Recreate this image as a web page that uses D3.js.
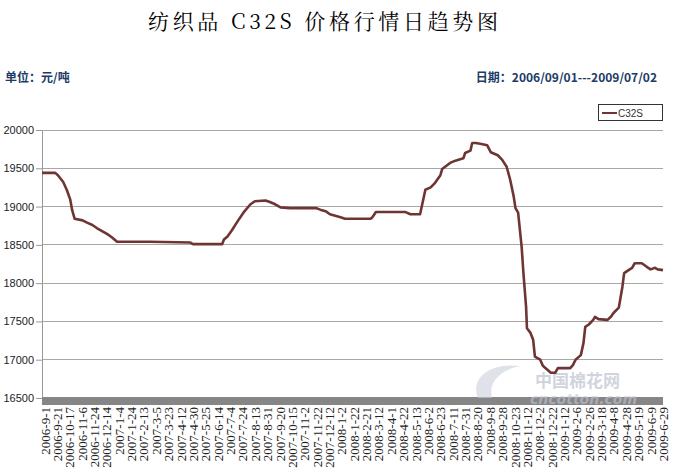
<!DOCTYPE html>
<html><head><meta charset="utf-8">
<script src="https://cdn.jsdelivr.net/npm/d3@7"></script>
<style>
html,body{margin:0;padding:0;background:#fff;}
svg{display:block;}
</style></head>
<body>
<svg id="c" width="680" height="473"></svg>
<script>
// ---- data ----
const xLabels = ["2006-9-1","2006-9-21","2006-10-17","2006-11-6","2006-11-24","2006-12-14",
"2007-1-4","2007-1-24","2007-2-13","2007-3-5","2007-3-23","2007-4-12","2007-4-30","2007-5-25","2007-6-14","2007-7-4","2007-7-24","2007-8-13","2007-8-31","2007-9-20","2007-10-15","2007-11-2","2007-11-22","2007-12-12",
"2008-1-2","2008-1-22","2008-2-21","2008-3-12","2008-4-1","2008-4-22","2008-5-13","2008-6-2","2008-6-23","2008-7-11","2008-7-31","2008-8-20","2008-9-8","2008-9-28","2008-10-23","2008-11-12","2008-12-2","2008-12-22",
"2009-1-12","2009-2-6","2009-2-26","2009-3-18","2009-4-8","2009-4-28","2009-5-19","2009-6-9","2009-6-29"];
const labelStep = 14;      // trading days between labels
const totalDays = 703;     // 2006/09/01 .. 2009/07/02
const yTicks = [16500,17000,17500,18000,18500,19000,19500,20000];
// trading-day index of each reading, and price (元/吨)
const dayIndex = [0,15,18,24,28,32,34,37,46,51,57,62,68,74,79,85,122,168,171,204,206,210,215,221,228,236,241,253,258,264,270,281,306,310,315,321,326,332,338,343,372,374,378,411,417,428,431,434,440,445,451,453,462,468,477,479,485,487,491,496,504,508,516,521,526,530,534,536,539,543,545,548,549,553,556,558,564,567,576,581,584,598,601,604,610,613,615,619,624,626,630,640,644,647,653,657,659,664,668,671,679,685,689,694,697,703];
const price = [19440,19440,19410,19320,19220,19090,18960,18840,18820,18790,18760,18720,18680,18640,18600,18540,18540,18530,18510,18510,18570,18610,18690,18800,18920,19030,19070,19080,19060,19030,18990,18980,18980,18980,18960,18940,18900,18880,18860,18840,18840,18860,18930,18930,18900,18900,19060,19220,19250,19310,19410,19490,19570,19600,19630,19700,19730,19830,19830,19820,19800,19710,19670,19610,19520,19350,19130,18980,18920,18470,18130,17690,17410,17350,17260,17040,17000,16920,16830,16830,16890,16890,16930,17000,17060,17220,17430,17460,17520,17560,17530,17520,17560,17610,17680,17950,18130,18170,18200,18260,18260,18210,18180,18200,18180,18170];
const seriesName = "C32S";

// ---- chart ----
const svg = d3.select("#c");
const L = 42, R = 663, T = 130, B = 398;
const x = d3.scaleLinear().domain([0, totalDays]).range([L, R]);
const y = d3.scaleLinear().domain([16500, 20000]).range([B, T]);
const lineColor = "#6f3434";

// title
svg.append("text").attr("x", 148).attr("y", 29)
  .attr("textLength", 350).attr("lengthAdjust", "spacing")
  .style("font-family", "'Noto Serif CJK SC', 'Noto Sans CJK SC', serif").style("font-size", "21px").style("fill", "#000")
  .text("纺织品 C32S 价格行情日趋势图");

svg.append("text").attr("x", 5).attr("y", 82)
  .style("font-family", "'Noto Sans CJK SC', sans-serif").style("font-size", "12px").style("font-weight", "bold").style("fill", "#1b3b66")
  .text("单位：元/吨");
svg.append("text").attr("x", 657).attr("y", 82).attr("text-anchor", "end")
  .style("font-family", "'Noto Sans CJK SC', sans-serif").style("font-size", "12px").style("font-weight", "bold").style("fill", "#1b3b66")
  .text("日期：2006/09/01---2009/07/02");

// gridlines
svg.append("g").selectAll("line").data(yTicks).join("line")
  .attr("x1", L).attr("x2", R).attr("y1", d => y(d)).attr("y2", d => y(d))
  .attr("stroke", "#a8a8a8").attr("stroke-width", 1).attr("shape-rendering", "crispEdges");

// y axis
const yAxis = svg.append("g").attr("transform", `translate(${L},0)`)
  .call(d3.axisLeft(y).tickValues(yTicks).tickSize(6).tickPadding(2).tickFormat(d3.format("d")));
yAxis.select(".domain").attr("stroke", "#999");
yAxis.selectAll(".tick line").attr("stroke", "#999");
yAxis.selectAll("text").style("font-family", "'Liberation Sans', Arial, sans-serif").style("font-size", "11px").style("fill", "#222");

// bottom gray bar (x axis)
svg.append("rect").attr("x", L).attr("y", B - 1).attr("width", R - L).attr("height", 8).attr("fill", "#868686");

// watermark
const wm = svg.append("g").style("opacity", 0.6);
wm.append("path").attr("d", "M478,398 C470,378 490,362 520,366 C500,370 488,382 492,398 Z").attr("fill", "#c9ced9");
wm.append("text").attr("x", 535).attr("y", 387)
  .style("font-family", "'Noto Sans CJK SC', sans-serif").style("font-size", "17px").style("font-weight", "bold").style("fill", "#b3b9c8")
  .text("中国棉花网");
wm.append("text").attr("x", 530).attr("y", 404)
  .style("font-family", "'DejaVu Sans', sans-serif").style("font-size", "14px").style("font-style", "italic").style("font-weight", "bold").style("fill", "#c0c5d2")
  .text("cncotton.com");

// x labels
const xg = svg.append("g");
xg.selectAll("text").data(xLabels).join("text")
  .attr("transform", (d, i) => `translate(${x(i * labelStep) + 3},${B + 9}) rotate(-90)`)
  .attr("text-anchor", "end").attr("dy", "0.35em")
  .style("font-family", "'Liberation Serif', serif").style("font-size", "13px").style("fill", "#222")
  .text(d => d);

// line
const pts = dayIndex.map((d, i) => [d, price[i]]);
svg.append("path").datum(pts)
  .attr("fill", "none").attr("stroke", lineColor).attr("stroke-width", 2.6).attr("stroke-linejoin", "round")
  .attr("d", d3.line().x(d => x(d[0])).y(d => y(d[1])));

// legend
const lg = svg.append("g");
lg.append("rect").attr("x", 598.5).attr("y", 104.5).attr("width", 64).attr("height", 16)
  .attr("fill", "#fff").attr("stroke", "#333");
lg.append("line").attr("x1", 602).attr("x2", 617).attr("y1", 113).attr("y2", 113).attr("stroke", lineColor).attr("stroke-width", 2);
lg.append("text").attr("x", 618).attr("y", 117)
  .style("font-family", "'Liberation Sans', Arial, sans-serif").style("font-size", "10px").style("fill", "#333")
  .text(seriesName);
</script>
</body></html>
